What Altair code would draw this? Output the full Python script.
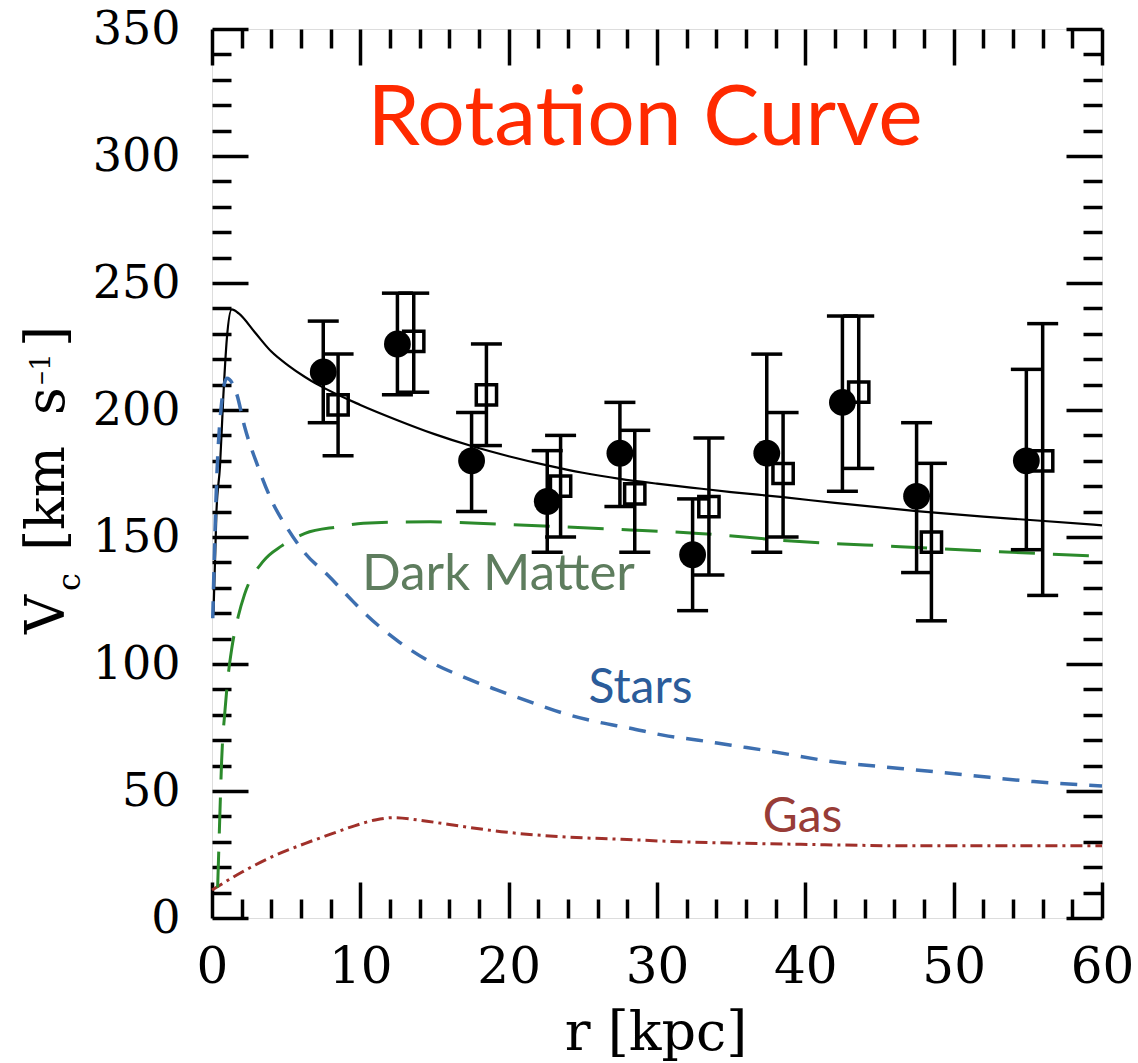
import altair as alt
import pandas as pd

# ---------------- data ----------------
# filled circles (r [kpc], Vc [km/s], lower / upper error)
circle_r = [7.5, 12.5, 17.5, 22.6, 27.5, 32.4, 37.4, 42.5, 47.5, 54.9]
circle_v = [215, 226, 180, 164, 183, 143, 183, 203, 166, 180]
circle_lo = [195, 206, 160, 144, 162, 121, 144, 168, 136, 145]
circle_hi = [235, 246, 199, 184, 203, 165, 222, 237, 195, 216]

# open squares
square_r = [8.5, 13.6, 18.5, 23.5, 28.5, 33.5, 38.5, 43.6, 48.5, 56.0]
square_v = [202, 227, 206, 170, 167, 162, 175, 207, 148, 180]
square_lo = [182, 207, 186, 150, 144, 135, 150, 177, 117, 127]
square_hi = [222, 246, 226, 190, 192, 189, 199, 237, 179, 234]

# model curves
total_r = [0.1, 0.3, 0.54, 0.76, 1.0, 1.33, 1.8, 2.9, 4.0, 5.15, 6.27, 7.2, 10, 12.5,
           15, 17.5, 20, 22.6, 25, 27.5, 30, 33, 35, 38.5, 42, 47.5, 52, 55.4, 60]
total_v = [120, 160, 178, 205, 228, 239.6, 238, 230.5, 223, 217.5, 213, 209.8, 202, 196,
           190.5, 185.8, 181.8, 178.2, 175.3, 172.9, 171, 169, 167.7, 165.7, 163.4, 160.2, 158, 156.6, 154.6]

stars_r = [0.05, 0.3, 0.6, 1.0, 1.65, 2.2, 3.1, 4.0, 5.15, 6.27, 7.8, 9.2, 10.2, 12.45, 14.7,
           16.9, 19.2, 21.4, 23.7, 25.9, 28.2, 30.4, 32.8, 35, 37.4, 41.9, 46.4, 50.9, 55.4, 60]
stars_v = [118, 170, 200, 212.5, 206.6, 193.4, 177.7, 164.6, 152.8, 143.6, 135, 126.5, 120.5, 109.4, 100.9,
           95, 89.8, 85.2, 80.6, 77.3, 74.7, 72, 70, 68, 65.9, 61.5, 58.9, 56.3, 53.7, 52]

dm_r = [0.38, 0.43, 0.54, 0.65, 0.88, 1.1, 1.33, 1.78, 2.2, 3.46, 4.7, 6.27, 8.5, 10.2,
        14.7, 19.2, 23.7, 28.2, 32.8, 39.6, 46.4, 53.1, 60]
dm_v = [12, 21.5, 42.5, 62, 82, 96, 106, 119, 127.5, 140.5, 146.5, 151.4, 154, 155.4,
        156, 155.1, 154, 152.8, 151.4, 148.2, 146.2, 144.2, 142.4]

gas_r = [0, 2, 4, 6.3, 8, 9.4, 11, 12.2, 14, 16, 19.5, 23.5, 27.6, 31.6, 35, 39.7, 47.8, 60]
gas_v = [11, 18, 24, 29.4, 33, 35.9, 38.6, 39.5, 38.5, 36.8, 34, 32, 31, 30, 29.5, 29, 28.4, 28.4]

# axis ticks / labels
x_tick_values = list(range(0, 61, 2))
y_tick_values = list(range(0, 351, 10))
x_label_values = list(range(0, 61, 10))
y_label_values = list(range(0, 351, 50))

# texts
title_text = "Rotation Curve"
dm_text = "Dark Matter"
stars_text = "Stars"
gas_text = "Gas"
x_title = "r [kpc]"

# ---------------- chart ----------------
W, H = 890, 889
XS = alt.Scale(domain=[0, 60], nice=False, zero=False)
YS = alt.Scale(domain=[0, 350], nice=False, zero=False)
SERIF = "DejaVu Serif"
SANS = "Lato"


def tick_axis(orient, values, major_mod, offset):
    return alt.Axis(orient=orient, offset=offset, values=values, labels=False,
                    domain=False, grid=False, ticks=True, tickColor="black",
                    tickWidth=3.5, title=None,
                    tickSize={"condition": {"test": f"datum.value % {major_mod} === 0", "value": 36},
                              "value": 19})


x_label_axis = alt.Axis(orient="bottom", values=x_label_values, ticks=False, domain=False,
                        grid=False, labelFont=SERIF, labelFontSize=50, labelColor="black",
                        labelPadding=24, labelFlush=False, labelOverlap=False, title=None)
y_label_axis = alt.Axis(orient="left", values=y_label_values, ticks=False, domain=False,
                        grid=False, labelFont=SERIF, labelFontSize=46, labelColor="black",
                        labelPadding=32, labelFlush=False, labelOverlap=False, title=None)


def curve(r, v, color, width, dash=None, xaxis=None, yaxis=None):
    df = pd.DataFrame({"r": r, "v": v})
    kw = dict(color=color, strokeWidth=width, interpolate="monotone")
    if dash is not None:
        kw["strokeDash"] = dash
    return alt.Chart(df).mark_line(**kw).encode(
        x=alt.X("r:Q", scale=XS, axis=xaxis),
        y=alt.Y("v:Q", scale=YS, axis=yaxis),
    )


total = curve(total_r, total_v, "black", 2.2, xaxis=x_label_axis, yaxis=y_label_axis)
gas = curve(gas_r, gas_v, "#a0302a", 3, dash=[12, 5, 3, 5],
            xaxis=tick_axis("top", x_tick_values, 10, -H),
            yaxis=tick_axis("right", y_tick_values, 50, -W))
dm = curve(dm_r, dm_v, "#2b8a2b", 3, dash=[36, 18],
           xaxis=tick_axis("bottom", x_tick_values, 10, -H),
           yaxis=tick_axis("left", y_tick_values, 50, -W))
stars = curve(stars_r, stars_v, "#3d6fb0", 3.5, dash=[17, 12])

circ_df = pd.DataFrame({"r": circle_r, "v": circle_v, "lo": circle_lo, "hi": circle_hi})
sq_df = pd.DataFrame({"r": square_r, "v": square_v, "lo": square_lo, "hi": square_hi})
err_df = pd.concat([circ_df, sq_df], ignore_index=True)
caps_df = pd.DataFrame({"r": circle_r + circle_r + square_r + square_r,
                        "v": circle_lo + circle_hi + square_lo + square_hi})

bars = alt.Chart(err_df).mark_rule(color="black", strokeWidth=3.5).encode(
    x=alt.X("r:Q", scale=XS, axis=None),
    y=alt.Y("lo:Q", scale=YS, axis=None),
    y2="hi:Q",
)
caps = alt.Chart(caps_df).mark_tick(orient="horizontal", color="black", size=31,
                                    thickness=3.5, opacity=1).encode(
    x=alt.X("r:Q", scale=XS, axis=None),
    y=alt.Y("v:Q", scale=YS, axis=None),
)
circles = alt.Chart(circ_df).mark_circle(color="black", size=720, opacity=1).encode(
    x=alt.X("r:Q", scale=XS, axis=None),
    y=alt.Y("v:Q", scale=YS, axis=None),
)
squares = alt.Chart(sq_df).mark_point(shape="square", filled=False, color="black",
                                      size=410, strokeWidth=3.5, opacity=1).encode(
    x=alt.X("r:Q", scale=XS, axis=None),
    y=alt.Y("v:Q", scale=YS, axis=None),
)


def label(text, x, y, size, color, font, angle=0, align="center"):
    return alt.Chart(pd.DataFrame({"t": [text]})).mark_text(
        font=font, fontSize=size, color=color, align=align,
        baseline="alphabetic", angle=angle,
    ).encode(x=alt.value(x), y=alt.value(y), text="t:N")


texts = [
    label(title_text, 433, 116, 84, "#ff2a00", SANS),
    label(dm_text, 286.5, 561, 51, "#5e7d5e", SANS),
    label(stars_text, 428.5, 674, 48, "#2b5c9a", SANS),
    label(gas_text, 590.5, 803, 48, "#983c37", SANS),
    label(x_title, 444, 1021, 54, "black", SERIF),
    # rotated y-axis title  V_c [km s^-1]
    label("V", -148, 605, 54, "black", SERIF, angle=270, align="left"),
    label("c", -132, 562, 32, "black", SERIF, angle=270, align="left"),
    label("[km", -148, 522, 54, "black", SERIF, angle=270, align="left"),
    label("s", -148, 386, 54, "black", SERIF, angle=270, align="left"),
    label("\u20131", -162, 356, 28, "black", SERIF, angle=270, align="left"),
    label("]", -148, 318, 54, "black", SERIF, angle=270, align="left"),
]

chart = alt.layer(total, gas, dm, stars, bars, caps, squares, circles, *texts).resolve_axis(
    x="independent", y="independent"
).properties(
    width=W, height=H,
    autosize=alt.AutoSizeParams(type="none"),
    padding={"left": 212, "top": 29, "right": 36, "bottom": 145},
).configure_view(
    stroke="black", strokeWidth=4
).configure(background="white")

chart.save("out.html", embed_options={"renderer": "svg", "actions": False})
